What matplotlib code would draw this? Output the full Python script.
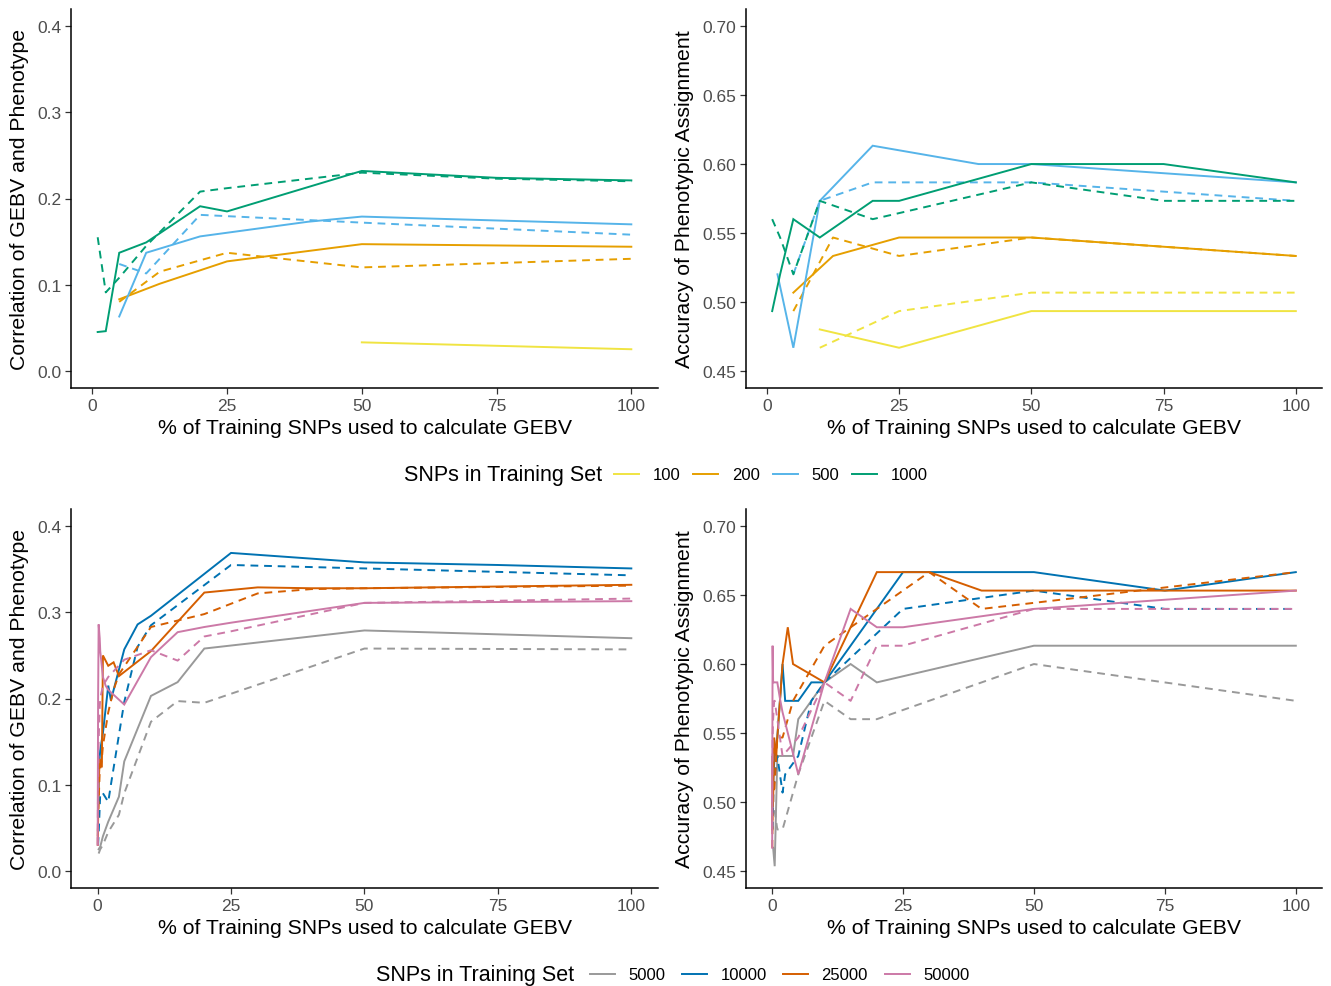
import matplotlib
matplotlib.use("Agg")
import matplotlib.pyplot as plt
from matplotlib.lines import Line2D
import numpy as np

plt.rcParams['font.family'] = ['Liberation Sans', 'DejaVu Sans']

nan = np.nan

# % of training SNPs used, per training-set size
x100 = [10, 25, 50, 100]
x200 = [5, 12.5, 25, 50, 100]
x500 = [2, 5, 10, 20, 40, 50, 100]
x1000 = [1, 2.5, 5, 10, 20, 25, 50, 75, 100]
x5000 = [0.2, 0.5, 1, 2, 4, 5, 10, 15, 20, 50, 100]
x10000 = [0.1, 0.25, 0.5, 1, 2, 2.5, 5, 7.5, 10, 25, 50, 75, 100]
x25000 = [0.04, 0.1, 0.2, 0.4, 0.8, 1, 2, 3, 4, 10, 20, 30, 40, 50, 100]
x50000 = [0.02, 0.05, 0.1, 0.2, 0.4, 0.5, 1, 1.5, 2, 5, 10, 15, 20, 25, 50, 100]

# correlation, small training sets (solid / dashed)
cor100_s = [nan, nan, 0.033, 0.025]
cor200_s = [0.083, 0.101, 0.127, 0.147, 0.144]
cor200_d = [0.080, 0.115, 0.137, 0.120, 0.130]
cor500_s = [nan, 0.063, 0.137, 0.156, 0.173, 0.179, 0.170]
cor500_d = [nan, 0.124, 0.113, 0.181, 0.175, 0.172, 0.158]
cor1000_s = [0.045, 0.046, 0.137, 0.149, 0.191, 0.185, 0.232, 0.224, 0.221]
cor1000_d = [0.155, 0.091, 0.108, 0.145, 0.208, 0.212, 0.230, 0.223, 0.220]

# accuracy, small training sets
acc100_s = [0.48, 0.4667, 0.4933, 0.4933]
acc100_d = [0.4667, 0.4933, 0.5067, 0.5067]
acc200_s = [0.5067, 0.5333, 0.5467, 0.5467, 0.5333]
acc200_d = [0.4933, 0.5467, 0.5333, 0.5467, 0.5333]
acc500_s = [0.52, 0.4667, 0.5733, 0.6133, 0.60, 0.60, 0.5867]
acc500_d = [nan, 0.52, 0.5733, 0.5867, 0.5867, 0.5867, 0.5733]
acc1000_s = [0.4933, 0.52, 0.56, 0.5467, 0.5733, 0.5733, 0.60, 0.60, 0.5867]
acc1000_d = [0.56, 0.5467, 0.52, 0.5733, 0.56, 0.5644, 0.5867, 0.5733, 0.5733]

# correlation, large training sets
cor5000_s = [0.025, 0.028, 0.04, 0.057, 0.086, 0.127, 0.203, 0.219, 0.258, 0.279, 0.270]
cor5000_d = [0.02, 0.025, 0.03, 0.045, 0.065, 0.09, 0.173, 0.197, 0.195, 0.258, 0.257]
cor10000_s = [0.07, 0.12, 0.14, 0.16, 0.215, 0.198, 0.257, 0.286, 0.296, 0.369, 0.358, 0.355, 0.351]
cor10000_d = [0.03, 0.05, 0.09, 0.09, 0.08, 0.10, 0.196, 0.26, 0.285, 0.355, 0.351, 0.347, 0.343]
cor25000_s = [0.03, 0.07, 0.10, 0.13, 0.12, 0.25, 0.238, 0.242, 0.226, 0.255, 0.323, 0.329, 0.328, 0.328, 0.332]
cor25000_d = [0.04, 0.06, 0.08, 0.115, 0.13, 0.145, 0.184, 0.21, 0.228, 0.283, 0.298, 0.322, 0.327, 0.328, 0.331]
cor50000_s = [0.03, 0.10, 0.20, 0.286, 0.27, 0.255, 0.225, 0.215, 0.21, 0.193, 0.248, 0.277, 0.283, 0.288, 0.311, 0.313]
cor50000_d = [0.03, 0.07, 0.10, 0.15, 0.19, 0.20, 0.215, 0.22, 0.225, 0.245, 0.256, 0.244, 0.272, 0.278, 0.311, 0.316]

# accuracy, large training sets
acc5000_s = [0.4667, 0.4533, 0.5333, 0.5333, 0.5333, 0.56, 0.5867, 0.60, 0.5867, 0.6133, 0.6133]
acc5000_d = [0.4933, 0.4933, 0.48, 0.48, 0.5067, 0.52, 0.5733, 0.56, 0.56, 0.60, 0.5733]
acc10000_s = [0.4933, 0.52, 0.5333, 0.5467, 0.60, 0.5733, 0.5733, 0.5867, 0.5867, 0.6667, 0.6667, 0.6533, 0.6667]
acc10000_d = [0.48, 0.5067, 0.52, 0.5333, 0.5067, 0.52, 0.5333, 0.5733, 0.5867, 0.64, 0.6533, 0.64, 0.64]
acc25000_s = [0.48, 0.5333, 0.50, 0.5467, 0.5333, 0.5467, 0.60, 0.6267, 0.60, 0.5867, 0.6667, 0.6667, 0.6533, 0.6533, 0.6533]
acc25000_d = [0.4667, 0.4933, 0.52, 0.5067, 0.5333, 0.5467, 0.5467, 0.56, 0.5733, 0.6133, 0.64, 0.6667, 0.64, 0.6444, 0.6667]
acc50000_s = [0.4667, 0.5333, 0.6133, 0.5867, 0.5867, 0.5867, 0.5867, 0.575, 0.565, 0.52, 0.5867, 0.64, 0.6267, 0.6267, 0.64, 0.6533]
acc50000_d = [0.48, 0.52, 0.5467, 0.56, 0.5733, 0.5733, 0.56, 0.5467, 0.5333, 0.5467, 0.5867, 0.5733, 0.6133, 0.6133, 0.64, 0.64]

top_labels = ["100", "200", "500", "1000"]
top_colors = ["#F0E442", "#E69F00", "#56B4E9", "#009E73"]
bot_labels = ["5000", "10000", "25000", "50000"]
bot_colors = ["#999999", "#0072B2", "#D55E00", "#CC79A7"]

W, H = 1331, 987
fig = plt.figure(figsize=(W / 100, H / 100), dpi=100)


def px_rect(x0, x1, y0, y1):
    return [x0 / W, 1 - y1 / H, (x1 - x0) / W, (y1 - y0) / H]


DASH = (0, (4, 3))
LW = 1.4


def style(ax, ylabel, yticks, ylim, xlim):
    ax.set_xlim(*xlim)
    ax.set_ylim(*ylim)
    ax.set_xticks([0, 25, 50, 75, 100])
    ax.set_yticks(yticks)
    ax.set_yticklabels([f"{v:.1f}" if ylim[1] < 0.5 else f"{v:.2f}" for v in yticks])
    for s in ["top", "right"]:
        ax.spines[s].set_visible(False)
    for s in ["left", "bottom"]:
        ax.spines[s].set_linewidth(1.1)
    ax.tick_params(length=4, width=0.9, color="#333333", labelsize=12.5,
                   labelcolor="#4D4D4D", pad=3)
    ax.set_xlabel("% of Training SNPs used to calculate GEBV", fontsize=15.3, labelpad=4)
    ax.set_ylabel(ylabel, fontsize=15.3, labelpad=6)


def draw(ax, xs, solids, dasheds, colors):
    for x, s, d, c in zip(xs, solids, dasheds, colors):
        if s is not None:
            ax.plot(x, s, color=c, lw=LW, solid_joinstyle="miter")
        if d is not None:
            ax.plot(x, d, color=c, lw=LW, linestyle=DASH)


xs_top = [x100, x200, x500, x1000]
xs_bot = [x5000, x10000, x25000, x50000]
xlim_top = (-3.95, 104.95)
xlim_bot = (-4.979, 104.999)
cor_ticks = [0.0, 0.1, 0.2, 0.3, 0.4]
acc_ticks = [0.45, 0.50, 0.55, 0.60, 0.65, 0.70]
cor_lim = (-0.02, 0.42)
acc_lim = (0.4375, 0.7125)

ax1 = fig.add_axes(px_rect(71, 658, 10, 389))
draw(ax1, xs_top, [cor100_s, cor200_s, cor500_s, cor1000_s],
     [None, cor200_d, cor500_d, cor1000_d], top_colors)
style(ax1, "Correlation of GEBV and Phenotype", cor_ticks, cor_lim, xlim_top)

ax2 = fig.add_axes(px_rect(746, 1322, 10, 389))
draw(ax2, xs_top, [acc100_s, acc200_s, acc500_s, acc1000_s],
     [acc100_d, acc200_d, acc500_d, acc1000_d], top_colors)
style(ax2, "Accuracy of Phenotypic Assignment", acc_ticks, acc_lim, xlim_top)

ax3 = fig.add_axes(px_rect(71, 658, 510, 889))
draw(ax3, xs_bot, [cor5000_s, cor10000_s, cor25000_s, cor50000_s],
     [cor5000_d, cor10000_d, cor25000_d, cor50000_d], bot_colors)
style(ax3, "Correlation of GEBV and Phenotype", cor_ticks, cor_lim, xlim_bot)

ax4 = fig.add_axes(px_rect(746, 1322, 510, 889))
draw(ax4, xs_bot, [acc5000_s, acc10000_s, acc25000_s, acc50000_s],
     [acc5000_d, acc10000_d, acc25000_d, acc50000_d], bot_colors)
style(ax4, "Accuracy of Phenotypic Assignment", acc_ticks, acc_lim, xlim_bot)


def legend(title_x, handle_x, y, labels, colors, colsp):
    fig.text(title_x / W, 1 - y / H, "SNPs in Training Set", fontsize=15.5,
             ha="left", va="center")
    handles = [Line2D([], [], color=c, lw=LW) for c in colors]
    fig.legend(handles, labels, loc="center left",
               bbox_to_anchor=(handle_x / W, 1 - y / H), ncol=4, frameon=False,
               fontsize=12, handlelength=1.5, handletextpad=0.8,
               columnspacing=colsp, borderaxespad=0, borderpad=0)


legend(404, 614, 476, top_labels, top_colors, 0.8)
legend(376, 590, 976, bot_labels, bot_colors, 1.0)

fig.savefig("out.png", dpi=100)
